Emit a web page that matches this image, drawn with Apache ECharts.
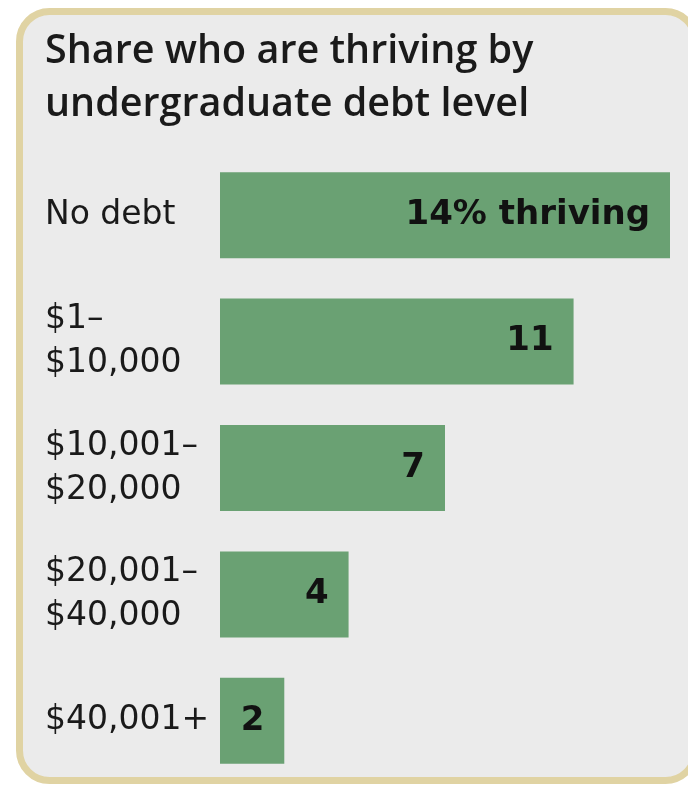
<!DOCTYPE html>
<html>
<head>
<meta charset="utf-8">
<script src="https://cdn.jsdelivr.net/npm/echarts@6/dist/echarts.min.js"></script>
<style>
html,body{margin:0;padding:0;background:#ffffff;}
#chart{width:688px;height:785px;}
</style>
</head>
<body>
<div id="chart"></div>
<script>
const titleText = "Share who are thriving by\nundergraduate debt level";
const categories = ["No debt", "$1–\n$10,000", "$10,001–\n$20,000", "$20,001–\n$40,000", "$40,001+"];
const values = [14, 11, 7, 4, 2];
const valueLabels = ["14% thriving", "11", "7", "4", "2"];

const chart = echarts.init(document.getElementById('chart'), null, {renderer: 'canvas'});
const option = {
  animation: false,
  backgroundColor: '#ffffff',
  graphic: [{
    type: 'rect',
    z: -10,
    silent: true,
    shape: {x: 19.5, y: 11.5, width: 676, height: 769, r: 30},
    style: {fill: '#ebebeb', stroke: '#e0d3a3', lineWidth: 7}
  }],
  title: {
    text: titleText,
    left: 40,
    top: 20,
    textStyle: {
      fontFamily: 'Open Sans',
      fontSize: 39.5,
      fontWeight: 600,
      lineHeight: 53,
      color: '#1a1a1a'
    }
  },
  grid: {left: 220, right: 18, top: 152, bottom: 1, containLabel: false},
  xAxis: {type: 'value', min: 0, max: 14, show: false},
  yAxis: {
    type: 'category',
    inverse: true,
    data: categories,
    axisLine: {show: false},
    axisTick: {show: false},
    axisLabel: {
      align: 'left',
      margin: 175,
      fontFamily: 'DejaVu Sans',
      fontSize: 33,
      lineHeight: 44,
      color: '#1a1a1a'
    }
  },
  series: [{
    type: 'bar',
    data: values,
    barWidth: 86,
    itemStyle: {color: '#6aa173'},
    label: {
      show: true,
      position: 'insideRight',
      distance: 20,
      formatter: p => valueLabels[p.dataIndex],
      fontFamily: 'DejaVu Sans',
      fontWeight: 'bold',
      fontSize: 34,
      color: '#111111'
    }
  }]
};
chart.setOption(option);
</script>
</body>
</html>
